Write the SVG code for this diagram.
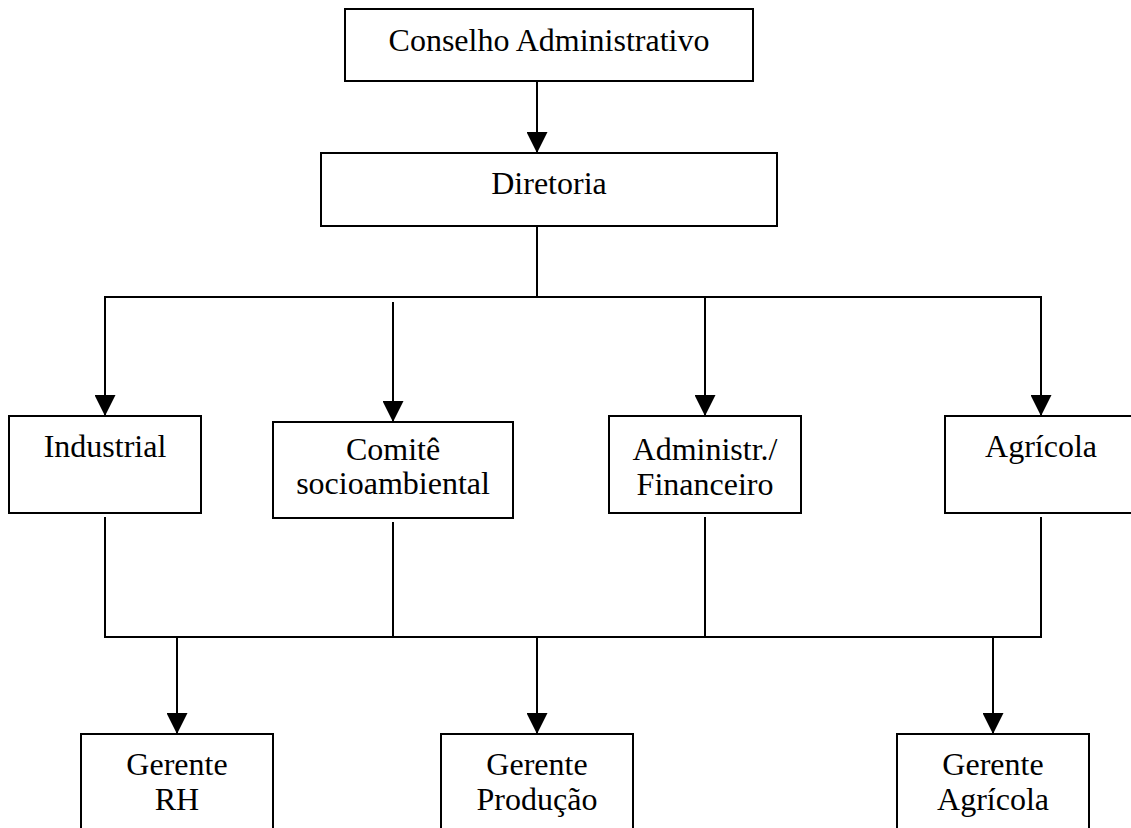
<svg xmlns="http://www.w3.org/2000/svg" width="1131" height="828" viewBox="0 0 1131 828">
<defs>
<marker id="arr" markerUnits="userSpaceOnUse" markerWidth="21" markerHeight="21" viewBox="0 0 21 21" refX="21" refY="10.5" orient="auto">
<path d="M0,0 L21,10.5 L0,21 z" fill="#000"/>
</marker>
<style>
.box{fill:#fff;stroke:#000;stroke-width:2}
.lbl{font-family:"Liberation Serif","Times New Roman",serif;font-size:32px;fill:#000;text-anchor:middle}
.ln{fill:none;stroke:#000;stroke-width:2}
.ar{fill:none;stroke:#000;stroke-width:2;marker-end:url(#arr)}
</style>
</defs>
<rect width="1131" height="828" fill="#fff"/>
<g id="connectors">
<line class="ar" x1="537" y1="81" x2="537" y2="153"/>
<line class="ln" x1="537" y1="226" x2="537" y2="297"/>
<line class="ln" x1="104" y1="297" x2="1042" y2="297"/>
<line class="ar" x1="105" y1="297" x2="105" y2="416"/>
<line class="ar" x1="393" y1="302" x2="393" y2="422"/>
<line class="ar" x1="705" y1="297" x2="705" y2="416"/>
<line class="ar" x1="1041" y1="297" x2="1041" y2="416"/>
<line class="ln" x1="105" y1="517" x2="105" y2="637"/>
<line class="ln" x1="393" y1="522" x2="393" y2="637"/>
<line class="ln" x1="705" y1="517" x2="705" y2="637"/>
<line class="ln" x1="1041" y1="517" x2="1041" y2="637"/>
<line class="ln" x1="104" y1="637" x2="1042" y2="637"/>
<line class="ar" x1="177" y1="637" x2="177" y2="734"/>
<line class="ar" x1="537" y1="637" x2="537" y2="734"/>
<line class="ar" x1="993" y1="637" x2="993" y2="734"/>
</g>
<g id="conselho">
<rect class="box" x="345" y="9" width="408" height="72"/>
<text class="lbl" x="549" y="51">Conselho Administrativo</text>
</g>
<g id="diretoria">
<rect class="box" x="321" y="153" width="456" height="73"/>
<text class="lbl" x="549" y="194">Diretoria</text>
</g>
<g id="industrial">
<rect class="box" x="9" y="416" width="192" height="97"/>
<text class="lbl" x="105" y="457">Industrial</text>
</g>
<g id="comite">
<rect class="box" x="273" y="422" width="240" height="96"/>
<text class="lbl" x="393" y="460">Comitê</text>
<text class="lbl" x="393" y="494">socioambiental</text>
</g>
<g id="administr">
<rect class="box" x="609" y="416" width="192" height="97"/>
<text class="lbl" x="705" y="460">Administr./</text>
<text class="lbl" x="705" y="495">Financeiro</text>
</g>
<g id="agricola">
<rect class="box" x="945" y="416" width="192" height="97"/>
<text class="lbl" x="1041" y="457">Agrícola</text>
</g>
<g id="gerente-rh">
<rect class="box" x="81" y="734" width="192" height="110"/>
<text class="lbl" x="177" y="775">Gerente</text>
<text class="lbl" x="177" y="810">RH</text>
</g>
<g id="gerente-producao">
<rect class="box" x="441" y="734" width="192" height="110"/>
<text class="lbl" x="537" y="775">Gerente</text>
<text class="lbl" x="537" y="810">Produção</text>
</g>
<g id="gerente-agricola">
<rect class="box" x="897" y="734" width="192" height="110"/>
<text class="lbl" x="993" y="775">Gerente</text>
<text class="lbl" x="993" y="810">Agrícola</text>
</g>
</svg>
